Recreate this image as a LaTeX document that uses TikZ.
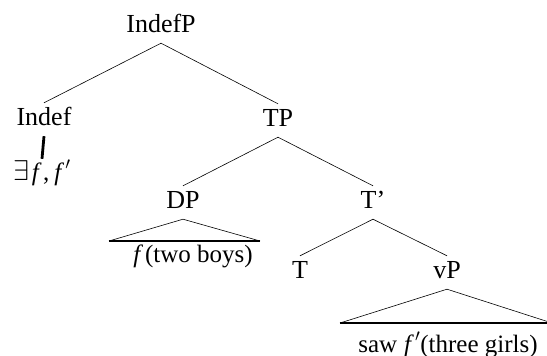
\documentclass[tikz,border=0pt]{standalone}
\usepackage{fontspec}
\setmainfont{Liberation Serif}
\begin{document}
\begin{tikzpicture}[x=1pt,y=-1pt,
  cat/.style={anchor=base,font=\fontsize{26}{30}\selectfont,text height=17pt,text depth=6pt,inner xsep=0pt,inner ysep=5pt},
  leaf/.style={anchor=base,font=\fontsize{25}{29}\selectfont,inner xsep=0pt,text height=17pt,text depth=6pt,inner ysep=4pt},
  branch/.style={line width=0.6pt},
  basebar/.style={line width=1.3pt},
  stem/.style={line width=2.8pt}]
\useasboundingbox (0,0) rectangle (547,356);

% category labels
\node[cat] (IndefP) at (161,32) {IndefP};
\node[cat] (Indef) at (44,125) {Indef};
\node[cat] (TP) at (278,126) {TP};
\node[cat] (DP) at (183,208) {DP};
\node[cat] (Tbar) at (373,208) {T’};
\node[cat] (T) at (300,278) {T};
\node[cat] (vP) at (447,278) {vP};

% terminal strings
\node[leaf] (ex) at (42,180) {\scalebox{1.15}{$\exists$}\kern2.5pt\textit{f}\kern1.5pt,\kern5pt\textit{f}\kern1pt\raisebox{1pt}{$'$}};
\node[leaf] (dpleaf) at (193,262) {\textit{f}\kern2pt(two boys)};
\node[leaf] (vpleaf) at (448,352) {saw\kern7pt\textit{f}\kern1pt\raisebox{1pt}{$'$}(three girls)};

% triangle base corners
\coordinate (dpL) at (109,241);
\coordinate (dpR) at (260,241);
\coordinate (vpL) at (340,323);
\coordinate (vpR) at (552,323);

% branches
\draw[branch] (IndefP.south) -- (Indef.north);
\draw[branch] (IndefP.south) -- (TP.north);
\draw[branch] (TP.south) -- (DP.north);
\draw[branch] (TP.south) -- (Tbar.north);
\draw[branch] (Tbar.south) -- (T.north);
\draw[branch] (Tbar.south) -- (vP.north);
\draw[stem] (Indef.south) -- (ex.north);

% triangles
\draw[branch] (dpL) -- (DP.south) -- (dpR);
\draw[basebar] (dpL) -- (dpR);
\draw[branch] (vpL) -- (vP.south) -- (vpR);
\draw[basebar] (vpL) -- (vpR);
\end{tikzpicture}
\end{document}
